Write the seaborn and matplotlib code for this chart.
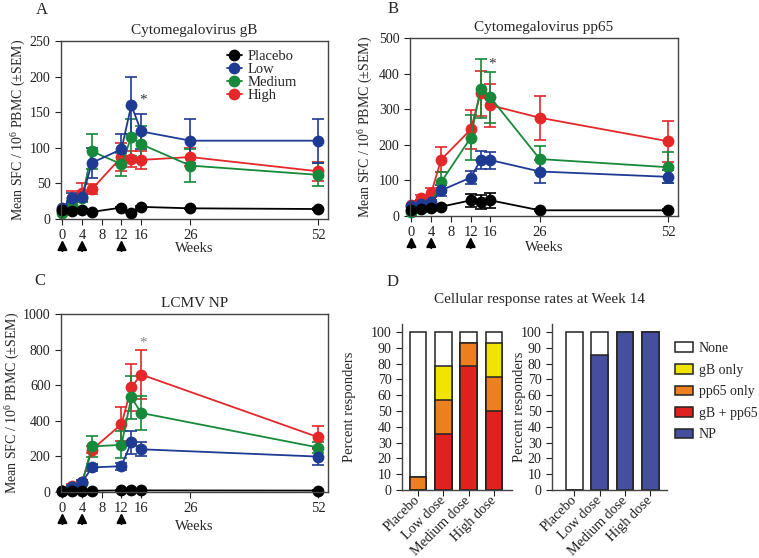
import matplotlib
matplotlib.use("Agg")
import matplotlib.pyplot as plt
import numpy as np
import pandas as pd
import seaborn as sns
from matplotlib.lines import Line2D
from matplotlib.patches import Patch

# ── Style ────────────────────────────────────────────────────────────────────
sns.set_style("ticks")
plt.rcParams["font.family"] = ["Liberation Serif", "DejaVu Serif"]
plt.rcParams.update({
    "font.size": 10.5,
    "mathtext.fontset": "custom",
    "mathtext.rm": "Liberation Serif",
    "mathtext.it": "Liberation Serif:italic",
    "axes.edgecolor": "#444444",
    "axes.linewidth": 1.0,
    "xtick.color": "#222222",
    "ytick.color": "#222222",
    "xtick.labelsize": 10.5,
    "ytick.labelsize": 10,
    "xtick.major.size": 4,
    "ytick.major.size": 4,
})

GROUPS = ["Placebo", "Low", "Medium", "High"]
COLORS = {"Placebo": "#000000", "Low": "#1f3a93", "Medium": "#17893a", "High": "#e4282a"}

# ── Data: time course (mean SFC / 1e6 PBMC, SEM) ─────────────────────────────
weeks = [0, 2, 4, 6, 12, 14, 16, 26, 52]
weeks_np = [0, 2, 4, 6, 12, 14, 16, 52]

gb_placebo = [12, 11, 13, 10, 16, 9, 17, 15, 14]
gb_low = [16, 30, 31, 79, 98, 160, 123, 110, 110]
gb_medium = [8, 20, 30, 95, 77, 115, 105, 75, 62]
gb_high = [12, 30, 37, 42, 87, 84, 83, 87, 67]
gb_placebo_sem = [1, 1, 1, 1, 1, 1, 1, 1, 1]
gb_low_sem = [4, 6, 6, 21, 22, 40, 25, 31, 31]
gb_medium_sem = [3, 5, 6, 25, 16, 26, 25, 23, 16]
gb_high_sem = [4, 10, 13, 7, 20, 11, 13, 13, 13]

pp_placebo = [17, 21, 22, 26, 44, 39, 44, 16, 16]
pp_low = [28, 35, 38, 72, 108, 157, 157, 125, 110]
pp_medium = [12, 22, 35, 95, 220, 357, 333, 160, 137]
pp_high = [30, 50, 65, 158, 243, 345, 311, 276, 210]
pp_placebo_sem = [8, 10, 8, 4, 19, 19, 21, 3, 3]
pp_low_sem = [10, 10, 8, 15, 19, 26, 24, 31, 18]
pp_medium_sem = [8, 10, 10, 30, 63, 83, 71, 36, 43]
pp_high_sem = [13, 8, 13, 35, 55, 63, 60, 62, 58]

np_placebo = [7, 7, 7, 7, 9, 9, 9, 8]
np_low = [8, 30, 55, 138, 145, 280, 240, 199]
np_medium = [8, 30, 50, 256, 265, 532, 444, 250]
np_high = [8, 35, 58, 238, 381, 588, 660, 308]
np_placebo_sem = [1, 1, 1, 1, 1, 1, 1, 1]
np_low_sem = [2, 8, 10, 20, 20, 64, 40, 47]
np_medium_sem = [2, 8, 10, 60, 75, 122, 94, 30]
np_high_sem = [2, 8, 10, 20, 94, 132, 135, 64]

# ── Data: response rates at week 14 (%) ──────────────────────────────────────
doses = ["Placebo", "Low dose", "Medium dose", "High dose"]
resp_both = [0, 35.7, 78.6, 50.0]
resp_pp65_only = [8.3, 21.4, 14.3, 21.4]
resp_gb_only = [0, 21.4, 0, 21.4]
resp_none = [91.7, 21.5, 7.1, 7.2]
resp_np = [0, 85.7, 100, 100]
resp_np_none = [100, 14.3, 0, 0]

RESP_COLORS = {"None": "#ffffff", "gB only": "#f1e400", "pp65 only": "#ec7f1f",
               "gB + pp65": "#e0221f", "NP": "#464f9e"}

W, H = 759, 558
fig = plt.figure(figsize=(W / 100, H / 100), dpi=100)
fig.patch.set_facecolor("white")


def box(l, t, r, b):
    return [l / W, 1 - b / H, (r - l) / W, (b - t) / H]


YLABEL = "Mean SFC / 10$^{6}$ PBMC (\u00b1SEM)"


def time_panel(rect, wk, series, sems, ylim, yticks, title, star_y, star_col,
               ylab_x, xlab_y):
    ax = fig.add_axes(rect)
    rows = []
    for g in GROUPS:
        for w, v in zip(wk, series[g]):
            rows.append({"week": w, "sfc": v, "group": g})
    df = pd.DataFrame(rows)
    order = ["High", "Medium", "Low", "Placebo"]
    for g in order:
        ax.errorbar(wk, series[g], yerr=sems[g], fmt="none", ecolor=COLORS[g],
                    elinewidth=1.2, capsize=4, capthick=1.2, zorder=1.5)
    sns.lineplot(data=df, x="week", y="sfc", hue="group", hue_order=order,
                 palette=COLORS, marker="o", markersize=8.5, markeredgewidth=0,
                 linewidth=1.3, legend=False, clip_on=False, ax=ax)
    ax.set_xlim(-0.3, 54)
    ax.set_ylim(*ylim)
    ax.set_xticks([0, 4, 8, 12, 16, 26, 52])
    ax.set_yticks(yticks)
    ax.tick_params(top=False, right=False)
    ax.set_title(title, fontsize=11, pad=5)
    ax.set_ylabel(YLABEL, fontsize=10)
    ax.yaxis.set_label_coords(ylab_x, 0.5)
    ax.set_xlabel("Weeks", fontsize=10.5)
    ax.xaxis.set_label_coords(0.5, xlab_y)
    ax.text(16.3, star_y, "*", ha="center", va="center", fontsize=11, color=star_col)
    for w in [0, 4, 12]:
        ax.annotate("", xy=(w, -0.118), xytext=(w, -0.18),
                    xycoords=("data", "axes fraction"),
                    textcoords=("data", "axes fraction"),
                    arrowprops=dict(arrowstyle="-|>", color="black", lw=1.5,
                                    mutation_scale=14, shrinkA=0, shrinkB=0),
                    annotation_clip=False)
    return ax


# Panel A
axA = time_panel(box(61, 41, 328, 219), weeks,
                 {"Placebo": gb_placebo, "Low": gb_low, "Medium": gb_medium, "High": gb_high},
                 {"Placebo": gb_placebo_sem, "Low": gb_low_sem, "Medium": gb_medium_sem, "High": gb_high_sem},
                 (0, 250), range(0, 251, 50), "Cytomegalovirus gB", 167, "#333333",
                 -0.125, -0.13)
handles = [Line2D([], [], color=COLORS[g], marker="o", markersize=8.5, lw=1.3,
                  markeredgewidth=0) for g in GROUPS]
axA.legend(handles, GROUPS, loc="upper left", bbox_to_anchor=(0.6, 0.985),
           frameon=False, fontsize=10.5, handlelength=1.0, handletextpad=0.4,
           labelspacing=0.0, borderaxespad=0)

# Panel B
time_panel(box(410, 38, 678, 216), weeks,
           {"Placebo": pp_placebo, "Low": pp_low, "Medium": pp_medium, "High": pp_high},
           {"Placebo": pp_placebo_sem, "Low": pp_low_sem, "Medium": pp_medium_sem, "High": pp_high_sem},
           (0, 500), range(0, 501, 100), "Cytomegalovirus pp65", 428, "#333333",
           -0.13, -0.14)

# Panel C
time_panel(box(61, 314, 328, 492), weeks_np,
           {"Placebo": np_placebo, "Low": np_low, "Medium": np_medium, "High": np_high},
           {"Placebo": np_placebo_sem, "Low": np_low_sem, "Medium": np_medium_sem, "High": np_high_sem},
           (0, 1000), range(0, 1001, 200), "LCMV NP", 835, "#888888",
           -0.145, -0.16)

# Panel D
def bar_layers(ax, layers):
    for vals, col in layers:
        sns.barplot(x=doses, y=vals, order=doses, color=col, saturation=1,
                    width=0.66, edgecolor="#222222", linewidth=1.1, ax=ax)
    ax.set_ylim(0, 105)
    ax.set_yticks(range(0, 101, 10))
    ax.set_ylabel("Percent responders", fontsize=10.5)
    ax.set_xlabel("")
    ax.tick_params(axis="x", length=4, pad=2)
    for lab in ax.get_xticklabels():
        lab.set_rotation(45)
        lab.set_ha("right")
        lab.set_va("center")
        lab.set_rotation_mode("anchor")
        lab.set_fontsize(10.2)
    sns.despine(ax=ax)


axD1 = fig.add_axes(box(402, 324, 512, 490))
top_gb = [a + b + c for a, b, c in zip(resp_both, resp_pp65_only, resp_gb_only)]
top_pp = [a + b for a, b in zip(resp_both, resp_pp65_only)]
top_all = [a + b for a, b in zip(top_gb, resp_none)]
bar_layers(axD1, [(top_all, RESP_COLORS["None"]), (top_gb, RESP_COLORS["gB only"]),
                  (top_pp, RESP_COLORS["pp65 only"]), (resp_both, RESP_COLORS["gB + pp65"])])
axD1.set_xlim(-0.63, 3.71)
axD1.yaxis.set_label_coords(-0.42, 0.5)

axD2 = fig.add_axes(box(552, 324, 667, 490))
np_total = [a + b for a, b in zip(resp_np, resp_np_none)]
bar_layers(axD2, [(np_total, RESP_COLORS["None"]), (resp_np, RESP_COLORS["NP"])])
axD2.set_xlim(-0.88, 3.66)
axD2.yaxis.set_label_coords(-0.23, 0.5)

fig.text(540 / W, 1 - 299 / H, "Cellular response rates at Week 14",
         ha="center", va="center", fontsize=11)
leg_handles = [Patch(facecolor=c, edgecolor="#222222", linewidth=1.1) for c in RESP_COLORS.values()]
fig.legend(leg_handles, list(RESP_COLORS.keys()), loc="upper left",
           bbox_to_anchor=(675 / W, 1 - 342 / H), frameon=False, fontsize=10,
           handlelength=1.3, handleheight=0.7, handletextpad=0.4, labelspacing=0.62,
           borderaxespad=0, borderpad=0)

# Panel letters
for letter, x, y in [("A", 42, 10), ("B", 393, 9), ("C", 40, 281), ("D", 393, 282)]:
    fig.text(x / W, 1 - y / H, letter, ha="center", va="center", fontsize=12)

fig.savefig("out.png", dpi=100, facecolor="white")
plt.close(fig)
